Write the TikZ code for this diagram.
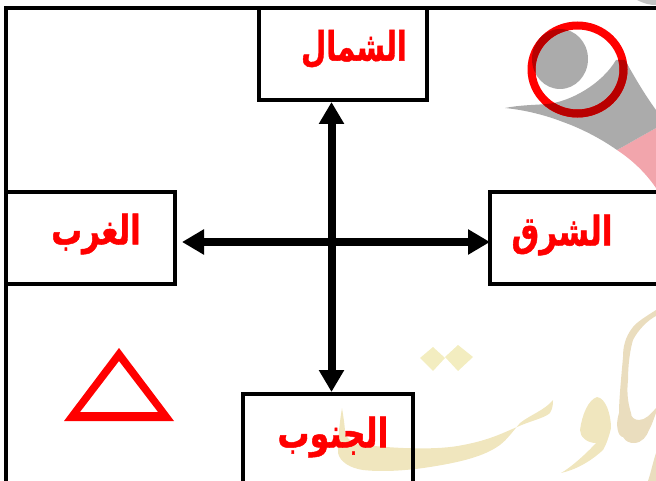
\documentclass[tikz,border=0pt]{standalone}
\usepackage{fontspec}
\usepackage{graphicx}
\usetikzlibrary{arrows.meta}
\TeXXeTstate=1
\newfontfamily\arabicfont[Script=Arabic,BoldFeatures={FakeBold=1.2}]{DejaVu Sans}
\definecolor{wmgray}{HTML}{ABABAB}
\definecolor{wmpink}{HTML}{F2A5AC}
\definecolor{wmgold}{HTML}{F0E6BE}
\definecolor{wmtan}{HTML}{EADDBE}
\definecolor{wmpale}{HTML}{F3EDC0}
\definecolor{ringdark}{HTML}{B80000}
\newcommand{\arlab}[2]{\scalebox{#1}[1.4]{\beginR #2\endR}}
\tikzset{
  boxnode/.style={draw=black,line width=4pt,inner sep=0pt,outer sep=0pt,fill=none},
  lab/.style={text=red,inner sep=0pt,font=\arabicfont\bfseries\fontsize{29}{29}\selectfont},
  dbl/.style={line width=8pt,draw=black,{Triangle[width=24pt,length=22pt]}-{Triangle[width=24pt,length=22pt]}}
}
\begin{document}
\begin{tikzpicture}[x=1pt,y=-1pt]
\useasboundingbox (0,0) rectangle (656,481);
\clip (0,0) rectangle (656,481);
% watermark: gray and pink swoosh
\fill[wmgray!70] (637,0) .. controls (645,4) and (650,5) .. (656,5) -- (656,0) -- cycle;
\fill[wmpink] (617,150) -- (656,128) -- (656,188) .. controls (645,172) and (632,160) .. (617,150) -- cycle;
\fill[wmgray] (505,108) .. controls (520,105) and (535,105) .. (547,104)
  .. controls (570,102) and (602,84) .. (616,60) -- (625,60)
  .. controls (635,78) and (645,95) .. (656,110) -- (656,128) -- (617,150)
  .. controls (600,138) and (580,128) .. (563,122) .. controls (545,115) and (525,110) .. (505,108) -- cycle;
\fill[wmgray] (560,59) ellipse (28 and 30);
% watermark: gold calligraphy
\fill[wmpale] (433,347) -- (445,358) -- (433,371) -- (420,358) -- cycle;
\fill[wmpale] (458,345) -- (473,357) -- (458,371) -- (445,357) -- cycle;
\fill[wmgold] (342,408) .. controls (344,420) and (345,428) .. (345,433)
  .. controls (348,441) and (355,444) .. (365,445) .. controls (400,449) and (440,450) .. (463,445)
  .. controls (490,440) and (505,432) .. (517,427) .. controls (530,421) and (545,418) .. (550,413)
  .. controls (553,408) and (553,403) .. (553,400) .. controls (545,410) and (530,415) .. (520,423)
  .. controls (510,435) and (505,442) .. (497,447) .. controls (480,458) and (455,463) .. (430,467)
  .. controls (405,471) and (380,472) .. (363,470) .. controls (350,468) and (340,462) .. (338,453)
  .. controls (338,435) and (340,420) .. (342,408) -- cycle;
\fill[wmgold] (597,397) .. controls (606,398) and (611,415) .. (611,428)
  .. controls (609,437) and (606,445) .. (603,450) .. controls (590,462) and (575,470) .. (561,473)
  .. controls (570,468) and (585,455) .. (596,443) .. controls (587,443) and (580,437) .. (580,430)
  .. controls (582,415) and (588,400) .. (597,397) -- cycle;
\fill[wmtan,even odd rule] (656,310) .. controls (645,317) and (637,322) .. (633,327)
  .. controls (625,337) and (623,347) .. (623,357) .. controls (621,380) and (619,400) .. (619,413)
  .. controls (615,425) and (618,437) .. (623,437) .. controls (626,442) and (630,443) .. (634,443)
  .. controls (642,443) and (647,436) .. (649,430) .. controls (652,425) and (654,418) .. (656,413)
  -- (656,408) .. controls (650,415) and (645,420) .. (639,420) .. controls (634,420) and (631,417) .. (631,413)
  .. controls (627,400) and (627,390) .. (628,380) .. controls (628,365) and (630,350) .. (633,340)
  .. controls (638,330) and (648,320) .. (656,316) -- cycle;
\fill[wmtan] (656,453) -- (656,481) -- (648,481) .. controls (651,472) and (653,462) .. (656,453) -- cycle;
% circle with darker part over the gray
\draw[red,line width=8pt] (577.5,69.5) ellipse (46 and 44);
\begin{scope}
\clip (505,108) .. controls (520,105) and (535,105) .. (547,104)
  .. controls (570,102) and (602,84) .. (616,60) -- (625,60)
  .. controls (635,78) and (645,95) .. (656,110) -- (656,128) -- (617,150)
  .. controls (600,138) and (580,128) .. (563,122) .. controls (545,115) and (525,110) .. (505,108) -- cycle
  (588,59) arc[start angle=0,end angle=360,x radius=28,y radius=30];
\draw[ringdark,line width=8pt] (577.5,69.5) ellipse (46 and 44);
\end{scope}
% triangle
\fill[red,even odd rule] (119,348) -- (174,421) -- (64,421) -- cycle (119,361) -- (80,412) -- (158,412) -- cycle;
% frame and boxes
\node[boxnode,minimum width=700pt,minimum height=520pt] (frame) at (356,268) {};
\node[boxnode,minimum width=168pt,minimum height=92pt] (north) at (343,54) {};
\node[boxnode,minimum width=169pt,minimum height=92pt] (west) at (90.5,238) {};
\node[boxnode,minimum width=260pt,minimum height=92pt] (east) at (620,238) {};
\node[boxnode,minimum width=170pt,minimum height=126pt] (south) at (328,457) {};
% labels
\node[lab] (tn) at (354,49) {\arlab{1}{الشمال}};
\node[lab] (tw) at (96,234) {\arlab{1.06}{الغرب}};
\node[lab] (te) at (562,235) {\arlab{1.07}{الشرق}};
\node[lab] (ts) at (333,437) {\arlab{1.1}{الجنوب}};
% arrows
\coordinate (c) at (331.5,242);
\draw[dbl,shorten <=2pt,shorten >=2pt] (north.south -| c) -- (south.north -| c);
\draw[dbl,shorten <=7pt] (west.east |- c) -- (east.west |- c);
\end{tikzpicture}
\end{document}
